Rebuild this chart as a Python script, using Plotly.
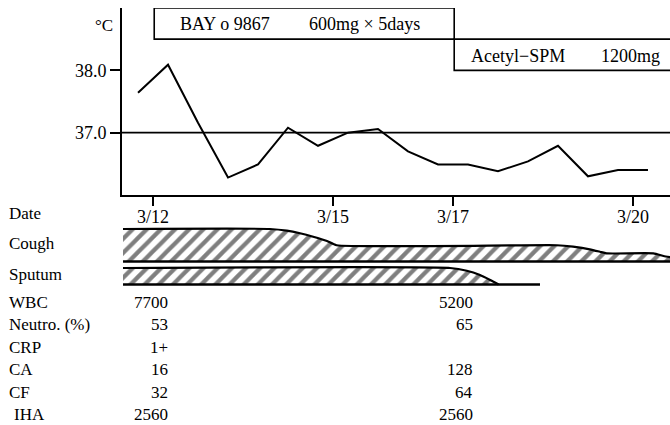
import plotly.graph_objects as go

# ---------------- data ----------------
temp_days = [11.75, 12.25, 12.75, 13.25, 13.75, 14.25, 14.75, 15.25, 15.75,
             16.25, 16.75, 17.25, 17.75, 18.25, 18.75, 19.25, 19.75, 20.25]
temp_values = [37.64, 38.09, 37.16, 36.28, 36.49, 37.08, 36.79, 37.00, 37.06,
               36.70, 36.49, 36.49, 36.38, 36.54, 36.79, 36.30, 36.40, 36.40]

date_ticks = [12, 15, 17, 20]
date_labels = ["3/12", "3/15", "3/17", "3/20"]

temp_ticks = [37, 38]
temp_tick_labels = ["37.0", "38.0"]

cough_days = [11.5, 13.95, 14.23, 14.45, 14.67, 14.9, 15.06, 18.73, 19.0,
              19.28, 19.45, 19.56, 20.34, 20.51, 20.62]
cough_level = [4.0, 4.0, 3.79, 3.47, 3.05, 2.52, 2.0, 2.0, 1.82,
               1.5, 1.2, 1.0, 1.0, 0.68, 0.52]

sputum_days = [11.5, 16.95, 17.23, 17.45, 17.62, 17.76]
sputum_level = [2.0, 2.0, 1.67, 1.15, 0.55, 0.0]
sputum_end = 18.45

drug_names = ["BAY o 9867", "Acetyl\u2212SPM"]
drug_doses = ["600mg \u00d7 5days", "1200mg"]
drug_start = [12.02, 17.02]
drug_end = [17.02, 21.5]

lab_names = ["WBC", "Neutro. (%)", "CRP", "CA", "CF", "IHA"]
lab_3_12 = ["7700", "53", "1+", "16", "32", "2560"]
lab_3_17 = ["5200", "65", "", "128", "64", "2560"]

# ---------------- layout helpers ----------------
W, H = 670, 425
FONT = "Liberation Serif"


def px(x):
    return x / W


def py(y):
    return 1 - y / H


X_RANGE = [11.483, 20.617]
HATCH = dict(shape="/", size=10, solidity=0.42, fgcolor="black", bgcolor="white")

fig = go.Figure()

# temperature
fig.add_trace(go.Scatter(x=temp_days, y=temp_values, mode="lines",
                         line=dict(color="black", width=2),
                         xaxis="x", yaxis="y", showlegend=False))

# cough band
fig.add_trace(go.Scatter(x=cough_days, y=cough_level, mode="lines",
                         line=dict(color="black", width=2.2, shape="spline", smoothing=0.5),
                         fill="tozeroy", fillcolor="white", fillpattern=HATCH,
                         xaxis="x", yaxis="y2", showlegend=False))
fig.add_trace(go.Scatter(x=[cough_days[0], cough_days[-1]], y=[0, 0], mode="lines",
                         line=dict(color="black", width=2.4),
                         xaxis="x", yaxis="y2", showlegend=False))

# sputum band
fig.add_trace(go.Scatter(x=sputum_days, y=sputum_level, mode="lines",
                         line=dict(color="black", width=2.2, shape="spline", smoothing=0.5),
                         fill="tozeroy", fillcolor="white", fillpattern=HATCH,
                         xaxis="x", yaxis="y3", showlegend=False))
fig.add_trace(go.Scatter(x=[sputum_days[0], sputum_end], y=[0, 0], mode="lines",
                         line=dict(color="black", width=2.4),
                         xaxis="x", yaxis="y3", showlegend=False))

shapes = []
# 37.0 reference line
shapes.append(dict(type="line", xref="x domain", yref="y", x0=0, x1=1, y0=37, y1=37,
                   line=dict(color="black", width=1.6)))
# drug boxes
box_levels = [(38.5, 39.0), (38.0, 38.5)]
for i in range(len(drug_names)):
    y0, y1 = box_levels[i]
    shapes.append(dict(type="rect", xref="x", yref="y", x0=drug_start[i], x1=drug_end[i],
                       y0=y0, y1=y1, line=dict(color="black", width=1.6),
                       fillcolor="rgba(0,0,0,0)"))

annotations = []
ann_font = dict(family=FONT, size=18, color="black")
annotations.append(dict(xref="paper", yref="paper", x=px(178), y=py(24), text=drug_names[0],
                        showarrow=False, xanchor="left", yanchor="middle", font=ann_font))
annotations.append(dict(xref="paper", yref="paper", x=px(307), y=py(24), text=drug_doses[0],
                        showarrow=False, xanchor="left", yanchor="middle", font=ann_font))
annotations.append(dict(xref="paper", yref="paper", x=px(469), y=py(56), text=drug_names[1],
                        showarrow=False, xanchor="left", yanchor="middle", font=ann_font))
annotations.append(dict(xref="paper", yref="paper", x=px(662), y=py(56), text=drug_doses[1],
                        showarrow=False, xanchor="right", yanchor="middle", font=ann_font))

lab_font = dict(family=FONT, size=17, color="black")
annotations.append(dict(xref="paper", yref="paper", x=px(104), y=py(25), text="\u00b0C",
                        showarrow=False, xanchor="center", yanchor="middle", font=lab_font))

row_labels = [("Date", 213), ("Cough", 243), ("Sputum", 274)]
for t, y in row_labels:
    annotations.append(dict(xref="paper", yref="paper", x=px(7), y=py(y), text=t,
                            showarrow=False, xanchor="left", yanchor="middle", font=lab_font))

row_y = [302, 324.5, 347, 369.5, 392, 414]
for i, name in enumerate(lab_names):
    xl = 12 if name == "IHA" else 7
    annotations.append(dict(xref="paper", yref="paper", x=px(xl), y=py(row_y[i]), text=name,
                            showarrow=False, xanchor="left", yanchor="middle", font=lab_font))
    if lab_3_12[i]:
        annotations.append(dict(xref="paper", yref="paper", x=px(170), y=py(row_y[i]),
                                text=lab_3_12[i], showarrow=False, xanchor="right",
                                yanchor="middle", font=lab_font))
    if lab_3_17[i]:
        annotations.append(dict(xref="paper", yref="paper", x=px(475), y=py(row_y[i]),
                                text=lab_3_17[i], showarrow=False, xanchor="right",
                                yanchor="middle", font=lab_font))

fig.update_layout(
    width=W, height=H,
    margin=dict(l=0, r=0, t=0, b=0),
    paper_bgcolor="white", plot_bgcolor="white",
    font=dict(family=FONT, size=17, color="black"),
    xaxis=dict(domain=[px(122), 1], range=X_RANGE, anchor="y",
               tickvals=date_ticks, ticktext=date_labels,
               ticks="outside", ticklen=9, tickwidth=1.5, tickcolor="black",
               ticklabelstandoff=-5,
               showline=True, linecolor="black", linewidth=2,
               showgrid=False, zeroline=False,
               tickfont=dict(family=FONT, size=18, color="black")),
    yaxis=dict(domain=[py(195), py(8)], range=[36, 39], anchor="x",
               tickvals=temp_ticks, ticktext=temp_tick_labels,
               ticks="outside", ticklen=10, tickwidth=1.5, tickcolor="black",
               showline=True, linecolor="black", linewidth=2,
               showgrid=False, zeroline=False,
               tickfont=dict(family=FONT, size=18, color="black")),
    yaxis2=dict(domain=[py(263.1), py(225.75)], range=[-0.2, 4.4], anchor="x",
                visible=False, showgrid=False, zeroline=False),
    yaxis3=dict(domain=[py(286.15), py(264.7)], range=[-0.2, 2.4], anchor="x",
                visible=False, showgrid=False, zeroline=False),
    shapes=shapes,
    annotations=annotations,
)

fig.write_html("out.html")
